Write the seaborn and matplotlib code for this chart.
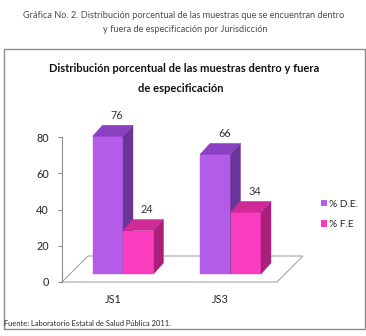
import numpy as np
import pandas as pd
import matplotlib
matplotlib.use("Agg")
import matplotlib.pyplot as plt
import matplotlib.transforms as mtransforms
from matplotlib.patches import Polygon, Rectangle
import seaborn as sns

# ---------------- data ----------------
categories = ["JS1", "JS3"]
series_names = ["% D.E.", "% F.E"]
dentro = [76, 66]
fuera = [24, 34]
y_ticks = [0, 20, 40, 60, 80]

caption = ["Gráfica No. 2. Distribución porcentual de las muestras que se encuentran dentro",
           "y fuera de especificación por Jurisdicción"]
title = ["Distribución porcentual de las muestras dentro y fuera",
         "de especificación"]
source = "Fuente: Laboratorio Estatal de Salud Pública 2011."

df = pd.DataFrame({
    "Jurisdicción": categories * 2,
    "Serie": [series_names[0]] * len(categories) + [series_names[1]] * len(categories),
    "Porcentaje": dentro + fuera,
})

front_col = {series_names[0]: "#B25CE8", series_names[1]: "#FA3CBE"}
side_col = {series_names[0]: "#6B3597", series_names[1]: "#A8207C"}
top_col = {series_names[0]: "#8B40C2", series_names[1]: "#CF2A98"}

sns.set_theme(style="white")
plt.rcParams["font.family"] = ["Lato", "DejaVu Sans"]

W, H = 366, 336
fig = plt.figure(figsize=(W / 100, H / 100), dpi=100)
fig.patch.set_facecolor("white")
renderer = fig.canvas.get_renderer()


def fit_size(s, target_px, weight="normal", base=10.0):
    t = fig.text(0, 0, s, fontsize=base, fontweight=weight)
    w = t.get_window_extent(renderer=renderer).width
    t.remove()
    return base * target_px / w


def fx(px):
    return px / W


def fy(py):
    return (H - py) / H


# ---------------- axes geometry ----------------
x0_px, x1_px = 62, 277
y0_px = 282
ppu_x = 107.5
ppu_y = 1.8125
ymax = 95
ax = fig.add_axes([fx(x0_px), fy(y0_px), (x1_px - x0_px) / W, ymax * ppu_y / H])
ax.set_facecolor("none")

sns.barplot(data=df, x="Jurisdicción", y="Porcentaje", hue="Serie",
            order=categories, hue_order=series_names, palette=front_col,
            width=0.567, gap=0, saturation=1, linewidth=0, errorbar=None,
            legend=True, ax=ax)

xl = (x0_px - 123) / ppu_x
xr = (x1_px - 123) / ppu_x
ax.set_xlim(xl, xr)
ax.set_ylim(0, ymax)

# ---------------- 3D effect ----------------
dx = 10 / ppu_x
dy = 11 / ppu_y
base = 8 / ppu_y

fs_tick = fit_size("80", 12.5)
fs_val = fs_tick
fs_cat = fs_tick

all_bars = []
for s, cont in zip(series_names, ax.containers):
    for p in cont.patches:
        all_bars.append((p.get_x(), s, p))
all_bars.sort(key=lambda t: t[0])

z = 3
for x, s, p in all_bars:
    w = p.get_width()
    h = p.get_height()
    p.set_y(base)
    p.set_zorder(z)
    p.set_edgecolor(front_col[s])
    p.set_linewidth(0.3)
    p.set_clip_on(False)
    yt = base + h
    side_poly = [(x + w, base), (x + w + dx, base + dy), (x + w + dx, yt + dy), (x + w, yt)]
    top_poly = [(x, yt), (x + w, yt), (x + w + dx, yt + dy), (x + dx, yt + dy)]
    ax.add_patch(Polygon(side_poly, closed=True, fc=side_col[s], ec=side_col[s],
                         lw=0.3, zorder=z, clip_on=False))
    ax.add_patch(Polygon(top_poly, closed=True, fc=top_col[s], ec=top_col[s],
                         lw=0.3, zorder=z, clip_on=False))
    ax.annotate(f"{h:.0f}", xy=(x + w / 2 + dx * 0.9, yt + dy),
                xytext=(0, 10 * 0.72), textcoords="offset points",
                ha="center", va="center", fontsize=fs_val, color="#333333",
                zorder=20, annotation_clip=False)
    z += 1

# floor
fdx = 26 / ppu_x
fdy = 26 / ppu_y
ax.add_patch(Polygon([(xl, 0), (xr, 0), (xr + fdx, fdy), (xl + fdx, fdy)], closed=True,
                     fc="white", ec="#A6A6A6", lw=0.8, zorder=1, clip_on=False))

# ---------------- axes styling ----------------
for sp in ["top", "right", "bottom"]:
    ax.spines[sp].set_visible(False)
ax.spines["left"].set_bounds(0, 80)
ax.spines["left"].set_color("#8C8C8C")
ax.spines["left"].set_linewidth(0.8)
ax.set_yticks(y_ticks)
ax.set_yticklabels([str(v) for v in y_ticks])
ax.tick_params(axis="y", left=True, length=4 * 0.72, width=0.8, color="#8C8C8C",
               pad=9 * 0.72, labelsize=fs_tick, labelcolor="#262626")
ax.tick_params(axis="x", bottom=False, length=0, pad=12 * 0.72,
               labelsize=fs_cat, labelcolor="#262626")
ax.set_xlabel("")
ax.set_ylabel("")
for lbl in ax.get_xticklabels():
    lbl.set_transform(lbl.get_transform() +
                      mtransforms.ScaledTranslation(-10 / 100, 0, fig.dpi_scale_trans))

# ---------------- legend ----------------
leg = ax.get_legend()
handles = leg.legend_handles
labels = [t.get_text() for t in leg.get_texts()]
leg.remove()
fs_leg = fit_size("% D.E.", 29)
fig.legend(handles, labels, loc="center left",
           bbox_to_anchor=(fx(321), fy(214.5)), bbox_transform=fig.transFigure,
           frameon=False, handlelength=0.55, handleheight=0.55, handletextpad=0.2,
           labelspacing=1.1, borderpad=0, borderaxespad=0, fontsize=fs_leg,
           labelcolor="#262626")

# ---------------- frame and texts ----------------
fig.add_artist(Rectangle((fx(4), fy(329)), (364.5 - 4) / W, (329 - 49) / H,
                         transform=fig.transFigure, fill=False,
                         edgecolor="#8C8C8C", lw=1.0, zorder=0))

fs_cap = fit_size(caption[0], 324)
fig.text(fx(184), fy(15), caption[0], ha="center", va="center", fontsize=fs_cap, color="#4D4D4D")
fig.text(fx(185), fy(30), caption[1], ha="center", va="center", fontsize=fs_cap, color="#4D4D4D")

fs_tit = fit_size(title[0], 271, weight="bold")
fig.text(fx(184), fy(69), title[0], ha="center", va="center", fontsize=fs_tit,
         fontweight="bold", color="#111111")
fig.text(fx(181), fy(88), title[1], ha="center", va="center", fontsize=fs_tit,
         fontweight="bold", color="#111111")

fs_src = fit_size(source, 167)
fig.text(fx(4.5), fy(324), source, ha="left", va="center", fontsize=fs_src, color="#262626")

fig.savefig("out.png", dpi=100, facecolor="white")
